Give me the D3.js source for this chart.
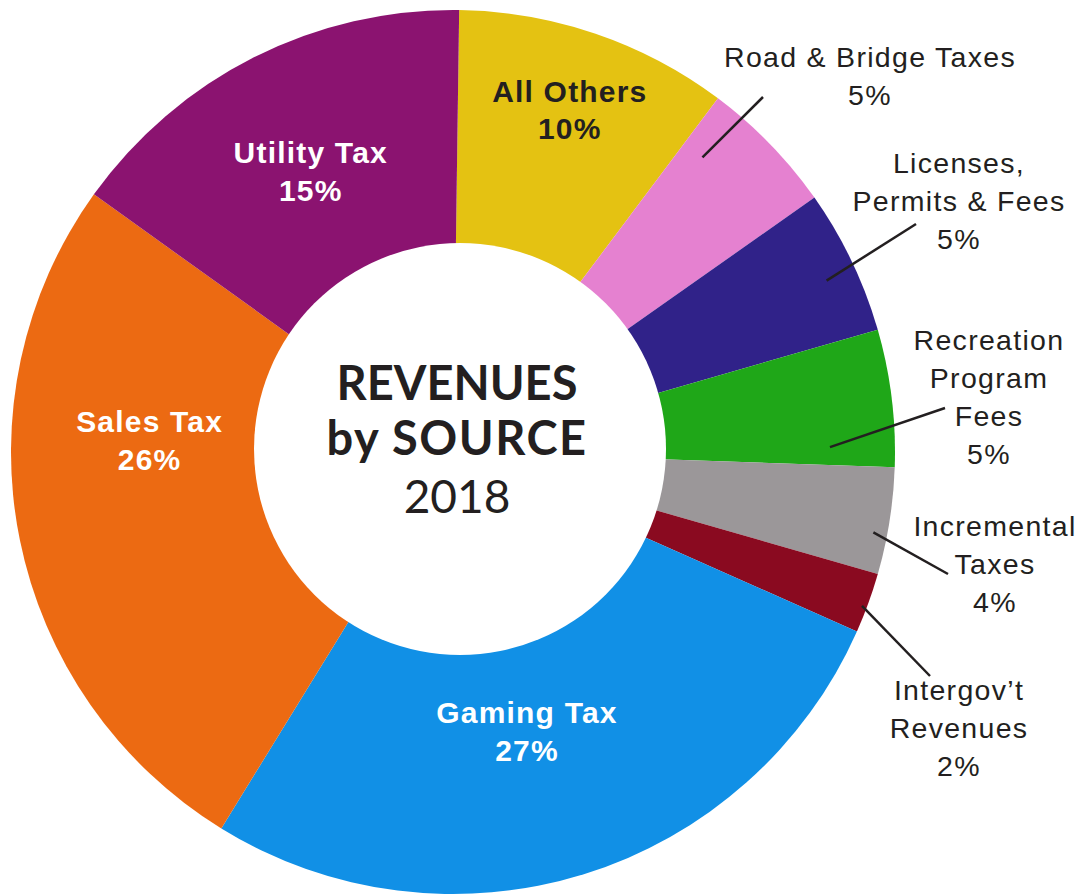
<!DOCTYPE html>
<html>
<head>
<meta charset="utf-8">
<script src="https://cdn.jsdelivr.net/npm/d3@7"></script>
<style>
  body { margin: 0; background: #fff; }
  svg { display: block; }
  .inner-label { font-family: 'Liberation Sans', Arial, sans-serif; font-weight: bold; font-size: 30px; letter-spacing: 1.2px; }
  .outer-label { font-family: 'Liberation Sans', Arial, sans-serif; font-size: 28.5px; letter-spacing: 1.3px; fill: #231f20; }
  .leader { stroke: #231f20; stroke-width: 2.5; }
  .title { font-family: Lato, sans-serif; fill: #231f20; text-anchor: middle; }
</style>
</head>
<body>
<div id="chart"></div>
<script>
// slices, clockwise from 12 o'clock
const categories = ['All Others', 'Road & Bridge Taxes', 'Licenses, Permits & Fees', 'Recreation Program Fees', 'Incremental Taxes', 'Intergov’t Revenues', 'Gaming Tax', 'Sales Tax', 'Utility Tax']
const shares = [10.0, 5.0, 5.3, 5.0, 3.9, 2.2, 27.1, 26.1, 15.3]
const labelLines = [['All Others'], ['Road & Bridge Taxes'], ['Licenses,', 'Permits & Fees'], ['Recreation', 'Program', 'Fees'], ['Incremental', 'Taxes'], ['Intergov’t', 'Revenues'], ['Gaming Tax'], ['Sales Tax'], ['Utility Tax']]
const colors = ['#e4c212', '#e581d0', '#302289', '#1fa718', '#9b9799', '#8a0a20', '#1190e6', '#ec6a12', '#8b1370']
const titleLines = ['REVENUES', 'by SOURCE', '2018']

const width = 1082
const height = 895
const cx = 453
const cy = 452
const outerR = 442
// the hole is not quite concentric with the ring in the original
const hole = { dx: 7, dy: -3, r: 206 }
const startAngle = 0.8 * Math.PI / 180 // ring is turned a hair clockwise
const lineGap = 38

// labels that sit on the ring: position along the slice (0..1) and radius
const innerLabels = [
  { i: 0, frac: 0.49, r: 369, fill: '#231f20' },
  { i: 6, frac: 0.52, r: 281, fill: '#fff' },
  { i: 7, frac: 0.66, r: 304, fill: '#fff' },
  { i: 8, frac: 0.51, r: 322, fill: '#fff' }
]

// labels outside the ring, with a leader line
const outerLabels = [
  { i: 1, frac: 0.19, r: 386, end: [763, 97], text: [870, 67] },
  { i: 2, frac: 0.55, r: 411, end: [916, 224], text: [959, 173] },
  { i: 3, frac: 0.85, r: 377, end: [945, 408], text: [989, 350] },
  { i: 4, frac: 0.63, r: 428, end: [948, 574], text: [995, 536] },
  { i: 5, frac: 0.58, r: 437, end: [930, 676], text: [959, 700] }
]

drawChart()

function drawChart () {
  const pie = d3.pie()
    .sort(null)
    .value(d => d)
    .startAngle(startAngle)
    .endAngle(startAngle + 2 * Math.PI)
  const arcs = pie(shares)
  const total = d3.sum(shares)
  const pct = i => `${Math.round(shares[i] / total * 100)}%`

  const arc = d3.arc()
    .innerRadius(0)
    .outerRadius(outerR)

  const svg = d3.select('#chart')
    .append('svg')
    .attr('width', width)
    .attr('height', height)

  const g = svg.append('g')
    .attr('transform', `translate(${cx},${cy})`)

  g.selectAll('path.slice')
    .data(arcs)
    .join('path')
    .attr('class', 'slice')
    .attr('d', arc)
    .attr('fill', (d, i) => colors[i])

  g.append('circle')
    .attr('cx', hole.dx)
    .attr('cy', hole.dy)
    .attr('r', hole.r)
    .attr('fill', '#fff')

  const along = (a, frac) => a.startAngle + (a.endAngle - a.startAngle) * frac

  // inner labels
  innerLabels.forEach(l => {
    const [x, y] = d3.pointRadial(along(arcs[l.i], l.frac), l.r)
    const t = g.append('text')
      .attr('class', 'inner-label')
      .attr('text-anchor', 'middle')
      .attr('fill', l.fill)
    labelLines[l.i].concat(pct(l.i)).forEach((s, k) => {
      t.append('tspan').attr('x', x).attr('y', y + k * 37.5).text(s)
    })
  })

  // outer labels + leaders
  outerLabels.forEach(l => {
    const [x1, y1] = d3.pointRadial(along(arcs[l.i], l.frac), l.r)
    g.append('line')
      .attr('class', 'leader')
      .attr('x1', x1)
      .attr('y1', y1)
      .attr('x2', l.end[0] - cx)
      .attr('y2', l.end[1] - cy)

    const t = svg.append('text')
      .attr('class', 'outer-label')
      .attr('text-anchor', 'middle')
    labelLines[l.i].concat(pct(l.i)).forEach((s, k) => {
      t.append('tspan').attr('x', l.text[0]).attr('y', l.text[1] + k * lineGap).text(s)
    })
  })

  // centre title
  const tx = cx + 4
  const title = svg.append('text').attr('class', 'title')
  title.append('tspan').attr('x', tx).attr('y', 400)
    .attr('font-size', 47).attr('font-weight', 700).text(titleLines[0])
  title.append('tspan').attr('x', tx).attr('y', 455)
    .attr('font-size', 47).attr('font-weight', 700).attr('letter-spacing', 1.5).text(titleLines[1])
  title.append('tspan').attr('x', tx).attr('y', 513)
    .attr('font-size', 46).attr('font-weight', 400).text(titleLines[2])
}
</script>
</body>
</html>
